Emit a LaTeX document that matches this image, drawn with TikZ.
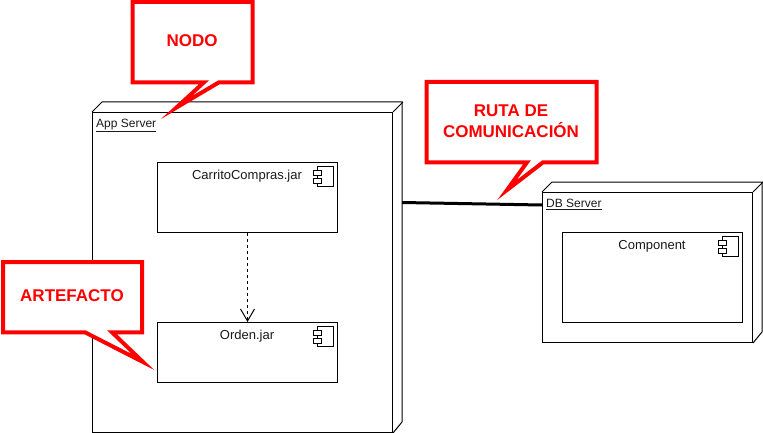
\documentclass[tikz,border=0pt]{standalone}
\usepackage{fontspec}
\setmainfont{Liberation Sans}
\usetikzlibrary{arrows.meta}
\definecolor{calloutred}{RGB}{255,0,0}
\definecolor{inktext}{RGB}{26,26,26}
\tikzset{
  server/.style={draw=black,fill=white,line width=1pt,minimum width=#1,inner sep=0pt,anchor=north west},
  component/.style={draw=black,fill=white,line width=1pt,inner sep=0pt,anchor=north west},
  iconline/.style={draw=black,fill=white,line width=1pt},
  depthline/.style={draw=black,line width=1pt,line join=miter},
  serverlabel/.style={font=\fontsize{12}{14}\selectfont,text=inktext,inner sep=0pt,anchor=base west},
  complabel/.style={font=\fontsize{13}{15}\selectfont,text=inktext,inner sep=0pt,anchor=base},
  callout/.style={draw=calloutred,fill=white,line width=4pt,line join=miter,miter limit=20},
  callouttext/.style={font=\fontsize{17}{21}\selectfont\bfseries,text=calloutred,inner sep=0pt,align=center},
  commlink/.style={draw=black,line width=3pt},
  depends/.style={draw=black,line width=1pt,dash pattern=on 3pt off 3pt,-{Straight Barb[length=12pt,width=14pt,line width=1pt]}}
}
\newcommand{\compicon}[2]{%
  \draw[iconline] (#1-15.5,#2+4.5) rectangle (#1+0.5,#2+24.5);
  \draw[iconline] (#1-19.5,#2+8.5) rectangle (#1-11.5,#2+13.5);
  \draw[iconline] (#1-19.5,#2+16.5) rectangle (#1-11.5,#2+21.5);
}
\begin{document}
\begin{tikzpicture}[x=1pt,y=-1pt]
\useasboundingbox (0,0) rectangle (763,433);
\begin{scope}[shift={(-0.5,-0.5)}]
% App server
\node[server=300pt,minimum height=320pt] (app) at (92.5,112.5) {};
\draw[depthline] (app.north west) -- ++(10,-10) -- ++(300,0) -- ++(0,320) -- (app.south east);
\draw[depthline] (app.north east) -- ++(10,-10);
\node[serverlabel] (applabel) at (96.5,128) {\underline{App Server}};
% DB server
\node[server=210pt,minimum height=150pt] (db) at (542.5,192.5) {};
\draw[depthline] (db.north west) -- ++(10,-10) -- ++(210,0) -- ++(0,150) -- (db.south east);
\draw[depthline] (db.north east) -- ++(10,-10);
\node[serverlabel] (dblabel) at (546.5,208) {\underline{DB Server}};
% Components
\node[component,minimum width=180pt,minimum height=70pt] (carrito) at (157.5,162.5) {};
\node[complabel] (carritolabel) at (247.5,179.5) {CarritoCompras.jar};
\compicon{333.5}{162.5}
\node[component,minimum width=180pt,minimum height=60pt] (orden) at (157.5,322.5) {};
\node[complabel] (ordenlabel) at (247.5,339.5) {Orden.jar};
\compicon{333.5}{322.5}
\node[component,minimum width=180pt,minimum height=90pt] (comp) at (562.5,232.5) {};
\node[complabel] (complabel) at (652.5,249.5) {Component};
\compicon{738.5}{232.5}
% Connectors
\draw[depends] (carrito.south) -- (orden.north);
\coordinate (appport) at (402.5,203);
\coordinate (dbport) at (542.5,205.5);
\draw[commlink] (appport) -- (dbport);
% Callouts
\draw[callout] (133,2.5) -- (253,2.5) -- (253,82.8) -- (219.5,82.8) -- (177,108) -- (204.5,82.8) -- (133,82.8) -- cycle;
\node[callouttext,anchor=base] (nodotext) at (192.5,47) {NODO};
\draw[callout] (3.5,262.5) -- (142.5,262.5) -- (142.5,332.8) -- (112.5,332.8) -- (143.5,362.5) -- (85.5,332.8) -- (3.5,332.8) -- cycle;
\node[callouttext,anchor=base] (artefactotext) at (72.5,302) {ARTEFACTO};
\draw[callout] (427,82.5) -- (597,82.5) -- (597,162.8) -- (543.5,162.8) -- (507.5,190.5) -- (527.5,162.8) -- (427,162.8) -- cycle;
\node[callouttext,anchor=center] (rutatext) at (511.5,122) {RUTA DE\\COMUNICACIÓN};
\end{scope}
\end{tikzpicture}
\end{document}
